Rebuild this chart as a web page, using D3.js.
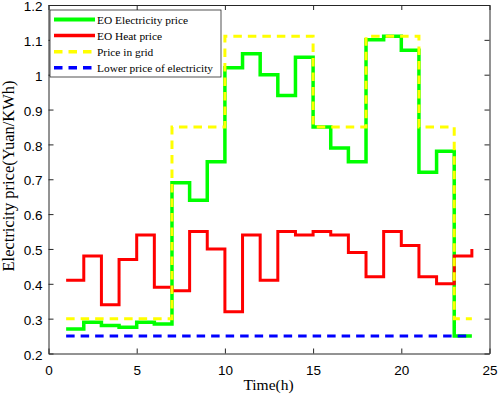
<!DOCTYPE html>
<html>
<head>
<meta charset="utf-8">
<script src="https://cdn.jsdelivr.net/npm/d3@7"></script>
<style>
  body { margin: 0; background: #fff; }
  .tick text { font-family: "Liberation Sans", Arial, sans-serif; font-size: 13.5px; fill: #000; }
  .axis path, .axis line { stroke: #262626; }
</style>
</head>
<body>
<svg id="chart" width="498" height="397"></svg>
<script>
// hours (stairs plotted from 1 to 24)
const hours = d3.range(1, 25)

const eoElec = [0.27, 0.29, 0.28, 0.275, 0.29, 0.285, 0.69, 0.64, 0.75, 1.02, 1.06, 1.0,
  0.94, 1.05, 0.85, 0.79, 0.75, 1.10, 1.11, 1.07, 0.72, 0.78, 0.25, 0.25]
const eoHeat = [0.41, 0.48, 0.34, 0.47, 0.54, 0.39, 0.38, 0.55, 0.50, 0.32, 0.54, 0.41,
  0.55, 0.54, 0.55, 0.54, 0.49, 0.42, 0.55, 0.51, 0.42, 0.40, 0.48, 0.50]
const gridPrice = [0.3, 0.3, 0.3, 0.3, 0.3, 0.3, 0.85, 0.85, 0.85, 1.11, 1.11, 1.11,
  1.11, 1.11, 0.85, 0.85, 0.85, 1.11, 1.11, 1.11, 0.85, 0.85, 0.3, 0.3]
const lowerPrice = hours.map(() => 0.25)

const xTicks = [0, 5, 10, 15, 20, 25]
const yTicks = [0.2, 0.3, 0.4, 0.5, 0.6, 0.7, 0.8, 0.9, 1.0, 1.1, 1.2]

const series = [
  { name: 'EO Electricity price', values: eoElec, color: '#00ff00', width: 3.5, dash: null },
  { name: 'EO Heat price', values: eoHeat, color: '#ff0000', width: 3, dash: null },
  { name: 'Price in grid', values: gridPrice, color: '#ffff00', width: 3, dash: '8.5,6' },
  { name: 'Lower price of electricity', values: lowerPrice, color: '#0000ff', width: 3, dash: '8.5,6' },
]

const margin = { top: 5, right: 8.5, bottom: 43.5, left: 48.5 }
const W = 498, H = 397
const innerW = W - margin.left - margin.right
const innerH = H - margin.top - margin.bottom

const svg = d3.select('#chart')
const g = svg.append('g').attr('transform', `translate(${margin.left},${margin.top})`)

const x = d3.scaleLinear().domain([0, 25]).range([0, innerW])
const y = d3.scaleLinear().domain([0.2, 1.2]).range([innerH, 0])

// 坐标轴 (ticks inward, box)
g.append('g').attr('class', 'axis')
  .attr('transform', `translate(0,${innerH})`)
  .call(d3.axisBottom(x).tickValues(xTicks).tickSizeInner(-5).tickSizeOuter(0).tickPadding(12).tickFormat(d3.format('d')))
g.append('g').attr('class', 'axis')
  .call(d3.axisTop(x).tickValues(xTicks).tickSizeInner(-5).tickSizeOuter(0).tickFormat(''))
g.append('g').attr('class', 'axis y-left')
  .call(d3.axisLeft(y).tickValues(yTicks).tickSizeInner(-5).tickSizeOuter(0).tickPadding(6).tickFormat(d => d3.format('~g')(d)))
  .selectAll('.tick text').attr('dy', '0.42em')
g.append('g').attr('class', 'axis')
  .attr('transform', `translate(${innerW},0)`)
  .call(d3.axisRight(y).tickValues(yTicks).tickSizeInner(-5).tickSizeOuter(0).tickFormat(''))

// 阶梯线
const line = d3.line().x((d, i) => x(hours[i])).y(d => y(d)).curve(d3.curveStepAfter)

g.append('g').selectAll('path.series')
  .data(series)
  .join('path')
  .attr('class', 'series')
  .attr('fill', 'none')
  .attr('stroke', d => d.color)
  .attr('stroke-width', d => d.width)
  .attr('stroke-dasharray', d => d.dash)
  .attr('d', d => line(d.values))

// 轴标签
svg.append('text')
  .attr('x', 268.5)
  .attr('y', 390)
  .attr('text-anchor', 'middle')
  .attr('font-family', '"Liberation Serif", "Times New Roman", serif')
  .attr('font-size', 15.5)
  .text('Time(h)')

svg.append('text')
  .attr('transform', `translate(13.5,176) rotate(-90)`)
  .attr('text-anchor', 'middle')
  .attr('font-family', '"Liberation Serif", "Times New Roman", serif')
  .attr('font-size', 16.5)
  .text('Electricity price(Yuan/KWh)')

// 图例
const lg = g.append('g').attr('transform', 'translate(1.5,5)')
lg.append('rect')
  .attr('width', 171).attr('height', 67)
  .attr('fill', '#fff').attr('stroke', '#262626').attr('stroke-width', 0.8)
const items = lg.selectAll('g.item').data(series).join('g')
  .attr('class', 'item')
  .attr('transform', (d, i) => `translate(0,${9.5 + i * 16.1})`)
items.append('line')
  .attr('x1', 4).attr('x2', 45)
  .attr('stroke', d => d.color)
  .attr('stroke-width', d => d.width + 0.5)
  .attr('stroke-dasharray', d => d.dash)
items.append('text')
  .attr('x', 47)
  .attr('dy', '0.35em')
  .attr('font-family', '"Liberation Serif", "Times New Roman", serif')
  .attr('font-size', 11.4)
  .text(d => d.name)
</script>
</body>
</html>
